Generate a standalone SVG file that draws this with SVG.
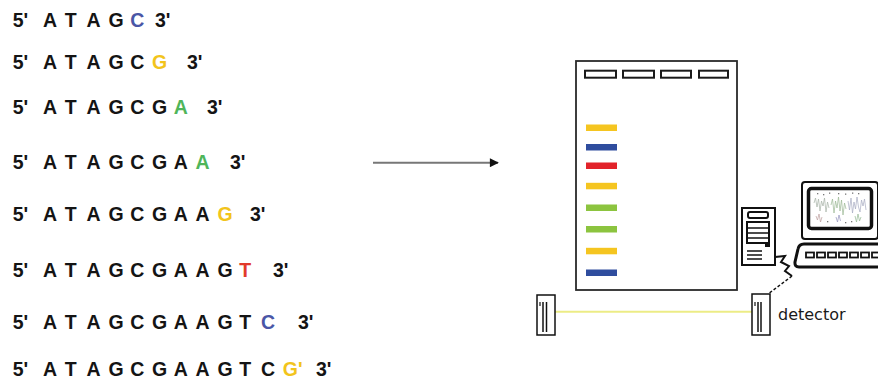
<svg xmlns="http://www.w3.org/2000/svg" width="878" height="388" viewBox="0 0 878 388">
  <defs>
    <style>
      .seq { font-family: "Liberation Sans", Arial, sans-serif; font-weight: bold; font-size: 19.5px; fill: #141414; }
      .blu { fill: #4a56a6; }
      .yel { fill: #f2c41c; }
      .grn { fill: #4fb55a; }
      .red { fill: #e23a2b; }
      .well { fill: #ffffff; stroke: #1a1a1a; stroke-width: 2; }
      .band { stroke: none; }
      .ink { fill: none; stroke: #111; stroke-width: 2; }
      .key { fill: #ffffff; stroke: #111; stroke-width: 1.8; }
      .det { fill: #ffffff; stroke: #111; stroke-width: 1.5; }
      .lbl { font-family: "DejaVu Sans", sans-serif; font-size: 16px; fill: #1a1a1a; }
    </style>
    <marker id="head" viewBox="0 0 10 10" refX="9" refY="5" markerWidth="10" markerHeight="9" markerUnits="userSpaceOnUse" orient="auto">
      <path d="M0,0 L10,5 L0,10 Z" fill="#111"/>
    </marker>
  </defs>

  <rect width="878" height="388" fill="#ffffff"/>

  <!-- sequencing fragments -->
  <g id="seq1"><text class="seq" y="26.7"><tspan x="12.7">5'</tspan><tspan x="43 64.8 86.6 108.4">ATAG</tspan><tspan class="blu" x="130.2">C</tspan><tspan x="155">3'</tspan></text></g>
  <g id="seq2"><text class="seq" y="69"><tspan x="12.7">5'</tspan><tspan x="43 64.8 86.6 108.4 130.2">ATAGC</tspan><tspan class="yel" x="152">G</tspan><tspan x="187">3'</tspan></text></g>
  <g id="seq3"><text class="seq" y="114"><tspan x="12.7">5'</tspan><tspan x="43 64.8 86.6 108.4 130.2 152">ATAGCG</tspan><tspan class="grn" x="173.8">A</tspan><tspan x="207">3'</tspan></text></g>
  <g id="seq4"><text class="seq" y="169"><tspan x="12.7">5'</tspan><tspan x="43 64.8 86.6 108.4 130.2 152 173.8">ATAGCGA</tspan><tspan class="grn" x="195.6">A</tspan><tspan x="230">3'</tspan></text></g>
  <g id="seq5"><text class="seq" y="220.7"><tspan x="12.7">5'</tspan><tspan x="43 64.8 86.6 108.4 130.2 152 173.8 195.6">ATAGCGAA</tspan><tspan class="yel" x="217.4">G</tspan><tspan x="250">3'</tspan></text></g>
  <g id="seq6"><text class="seq" y="277"><tspan x="12.7">5'</tspan><tspan x="43 64.8 86.6 108.4 130.2 152 173.8 195.6 217.4">ATAGCGAAG</tspan><tspan class="red" x="239.2">T</tspan><tspan x="273">3'</tspan></text></g>
  <g id="seq7"><text class="seq" y="329"><tspan x="12.7">5'</tspan><tspan x="43 64.8 86.6 108.4 130.2 152 173.8 195.6 217.4 239.2">ATAGCGAAGT</tspan><tspan class="blu" x="261">C</tspan><tspan x="298">3'</tspan></text></g>
  <g id="seq8"><text class="seq" y="376"><tspan x="12.7">5'</tspan><tspan x="43 64.8 86.6 108.4 130.2 152 173.8 195.6 217.4 239.2 261">ATAGCGAAGTC</tspan><tspan class="yel" x="282.8">G'</tspan><tspan x="316">3'</tspan></text></g>

  <!-- connectors -->
  <g id="connectors">
    <line x1="373" y1="162.7" x2="498" y2="162.7" stroke="#777" stroke-width="2" marker-end="url(#head)"/>
    <path d="M775,257 L785,256 L781,262 L789,266 L785,271 L792,276" class="ink" stroke-width="1.5"/>
    <path d="M792,276 L768,294" fill="none" stroke="#111" stroke-width="1.5" stroke-dasharray="3 2"/>
    <line x1="547" y1="311.7" x2="755" y2="311.7" stroke="#ecec86" stroke-width="2"/>
  </g>

  <!-- gel -->
  <g id="gel">
    <rect x="576" y="61" width="161" height="229" fill="#ffffff" stroke="#2a2a2a" stroke-width="1.8"/>
    <rect class="well" x="585" y="70.7" width="31" height="7"/>
    <rect class="well" x="623" y="70.7" width="31" height="7"/>
    <rect class="well" x="661" y="70.7" width="30" height="7"/>
    <rect class="well" x="699" y="70.7" width="29" height="7"/>
    <rect class="band" x="586" y="124.5" width="31" height="6.5" fill="#f5c520"/>
    <rect class="band" x="586" y="144" width="31" height="6.5" fill="#2f4d9e"/>
    <rect class="band" x="586" y="162.5" width="31" height="6.5" fill="#e2232a"/>
    <rect class="band" x="586" y="182.8" width="31" height="6.5" fill="#f5c520"/>
    <rect class="band" x="586" y="204.5" width="31" height="6.5" fill="#8cc43f"/>
    <rect class="band" x="586" y="226" width="31" height="6.5" fill="#8cc43f"/>
    <rect class="band" x="586" y="247.8" width="31" height="6.5" fill="#f5c520"/>
    <rect class="band" x="586" y="269.5" width="31" height="6.5" fill="#2f4d9e"/>
  </g>

  <!-- computer -->
  <g id="computer">
    <!-- tower -->
    <rect x="742" y="208" width="33" height="57" fill="#ffffff" stroke="#111" stroke-width="2"/>
    <rect x="748" y="212" width="20" height="6" rx="2" class="ink"/>
    <rect x="747" y="222" width="22" height="21" class="ink" stroke-width="1.5"/>
    <line x1="747" y1="228" x2="769" y2="228" stroke="#111" stroke-width="1.5"/>
    <line x1="747" y1="233" x2="769" y2="233" stroke="#111" stroke-width="1.5"/>
    <line x1="747" y1="238" x2="769" y2="238" stroke="#111" stroke-width="1.5"/>
    <rect x="765" y="242" width="5" height="5" fill="#111"/>
    <line x1="747" y1="251" x2="762" y2="251" stroke="#111" stroke-width="1.5"/>
    <line x1="747" y1="255" x2="762" y2="255" stroke="#111" stroke-width="1.5"/>
    <line x1="747" y1="259" x2="762" y2="259" stroke="#111" stroke-width="1.5"/>
    <!-- monitor -->
    <rect x="802" y="182" width="76" height="57" rx="3" fill="#ffffff" stroke="#111" stroke-width="2"/>
    <rect x="808.5" y="188.5" width="63" height="40" rx="3" fill="#ffffff" stroke="#111" stroke-width="3.5"/>
    <!-- trace read-out on screen -->
    <g fill="none" stroke-width="0.7" opacity="0.75">
      <polyline points="814,203 815.5,198 817,207 818.5,199 820,211 821.5,201 823,206 824.5,198 826,212 827.5,202 829,208" stroke="#8a9a8a"/>
      <polyline points="831,205 832.5,199 834,213 835.5,201 837,208 838.5,197 840,211 841.5,200 843,215 844.5,203 846,209" stroke="#7aa070"/>
      <polyline points="848,201 849.5,210 851,198 852.5,213 854,202 855.5,209 857,197 858.5,207 860,212 861.5,200 863,206 864.5,199 866,210" stroke="#8a8fae"/>
      <polyline points="816,216 817.5,220 819,214 820.5,222 822,217" stroke="#a88080"/>
      <polyline points="836,217 837.5,222 839,215 840.5,221" stroke="#7070a8"/>
      <polyline points="855,216 856.5,222 858,214 859.5,221 861,217" stroke="#70a070"/>
    </g>
    <g fill="#777">
      <rect x="817" y="193" width="1.3" height="1.3"/>
      <rect x="823" y="194" width="1.3" height="1.3"/>
      <rect x="829" y="192.5" width="1.3" height="1.3"/>
      <rect x="838" y="193" width="1.3" height="1.3"/>
      <rect x="845" y="193.5" width="1.3" height="1.3"/>
      <rect x="852" y="192.5" width="1.3" height="1.3"/>
      <rect x="858" y="193" width="1.3" height="1.3"/>
      <rect x="851" y="221" width="1.3" height="1.3"/>
      <rect x="827" y="221" width="1.3" height="1.3"/>
      <rect x="845" y="222" width="1.3" height="1.3"/>
    </g>
    <!-- keyboard -->
    <path d="M878,244 L804,244 Q799,244 798,249 L795,262 Q794.5,267 799,267 L878,267" fill="#ffffff" stroke="#111" stroke-width="3"/>
    <rect class="key" x="806" y="252.5" width="8" height="5"/>
    <rect class="key" x="817" y="252.5" width="8" height="5"/>
    <rect class="key" x="828" y="252.5" width="8" height="5"/>
    <rect class="key" x="839" y="252.5" width="8" height="5"/>
    <rect class="key" x="850" y="252.5" width="8" height="5"/>
    <rect class="key" x="861" y="252.5" width="8" height="5"/>
    <rect class="key" x="872" y="252.5" width="8" height="5"/>
  </g>

  <!-- detector pair -->
  <g id="source">
    <rect class="det" x="537" y="295" width="18" height="40"/>
    <line x1="543" y1="302" x2="543" y2="332" stroke="#111" stroke-width="1.5"/>
    <line x1="546.5" y1="302" x2="546.5" y2="332" stroke="#111" stroke-width="1.5"/>
    <line x1="540" y1="302" x2="540" y2="306" stroke="#111" stroke-width="1.2"/>
  </g>
  <g id="detector">
    <rect class="det" x="752" y="294" width="18" height="41"/>
    <line x1="758" y1="302" x2="758" y2="332" stroke="#111" stroke-width="1.5"/>
    <line x1="761" y1="302" x2="761" y2="332" stroke="#111" stroke-width="1.5"/>
    <line x1="755" y1="302" x2="755" y2="306" stroke="#111" stroke-width="1.2"/>
    <text class="lbl" x="778" y="320">detector</text>
  </g>
</svg>
